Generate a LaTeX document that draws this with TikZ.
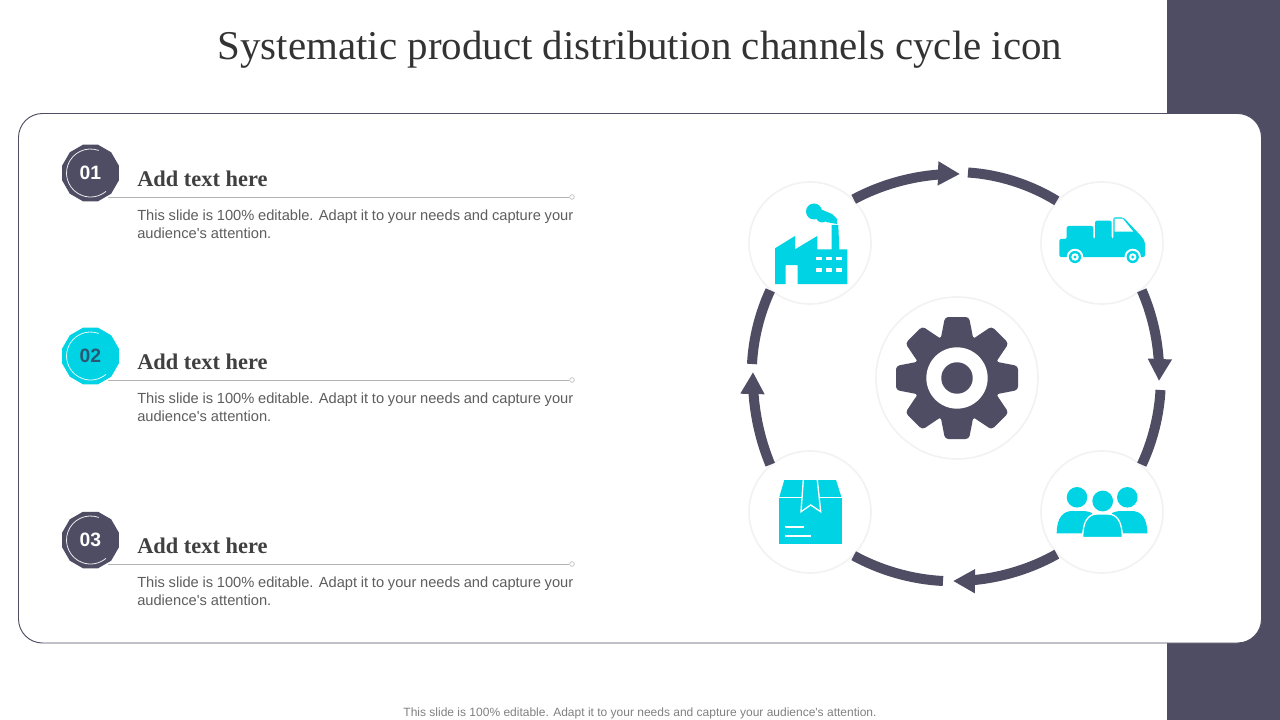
\documentclass[tikz,border=0pt]{standalone}
\usepackage{fontspec}
\setmainfont{Liberation Sans}
\newfontfamily\headfont{Liberation Serif}
\usetikzlibrary{positioning,arrows.meta,bending,shapes.geometric}
\definecolor{navy}{HTML}{4F4D63}
\definecolor{aqua}{HTML}{00D3E3}
\definecolor{bodygray}{HTML}{5E5E5E}
\definecolor{deepteal}{HTML}{2A5872}
\tikzset{
  badge/.style={regular polygon,regular polygon sides=12,minimum size=58.5pt*0.75,inner sep=0pt,font=\fontsize{14.5}{16}\selectfont\bfseries},
  headtext/.style={anchor=west,inner sep=0pt,text=black!75,font=\fontsize{16.8}{18}\headfont\bfseries},
  note/.style={anchor=north west,inner sep=0pt,text=bodygray,text width=327pt,align=justify,font=\fontsize{11}{13.5}\selectfont},
  iconbase/.style={circle,draw=black!5,line width=1.2pt,fill=white,minimum size=91.5pt,inner sep=0pt},
  ring/.style={navy,line width=7.5pt,looseness=0.85},
  ringarr/.style={ring,-{Triangle[length=16.5pt,width=17pt,flex=0]}},
}
\begin{document}
\begin{tikzpicture}[x=0.75pt,y=-0.75pt]
  \useasboundingbox (0,0) rectangle (1280,720);
  \fill[navy] (1167,0) rectangle (1280,720);
  \draw[navy,fill=white,line width=0.7pt,rounded corners=18pt] (18.5,113.5) rectangle (1261.5,643);
  \node[inner sep=0pt,text=black!80,font=\fontsize{30.7}{34}\headfont] (title) at (640,50) {Systematic product distribution channels cycle icon};
  \node[inner sep=0pt,text=black!50,font=\fontsize{9}{11}\selectfont] (foot) at (640,713) {This slide is 100\% editable. Adapt it to your needs and capture your audience\textquotesingle s attention.};
  % left column
  \foreach \i/\yy/\num/\col/\txt in {1/173/01/navy/white,2/356/02/aqua/deepteal,3/540/03/navy/white}{
    \coordinate (rule\i) at (108,\yy+24);
    \node[circle,draw=black!30,fill=white,minimum size=3.5pt,inner sep=0pt,line width=0.4pt] (dot\i) at (572,\yy+24) {};
    \draw[black!30,line width=0.7pt] (rule\i) -- (dot\i);
    \node[badge,fill=\col,text=\txt] (num\i) at (90.5,\yy) {\num};
    \draw[white!90!\col,line width=0.6pt] (num\i.center) ++(70:18pt) arc[start angle=70,delta angle=240,radius=18pt];
    \node[headtext] (head\i) at (137,\yy+5.5) {Add text here};
    \node[note] (note\i) at (137,\yy+37) {This slide is 100\% editable. Adapt it to your needs and capture your audience\textquotesingle s attention.};
  }
  % cycle
  \node[iconbase,minimum size=121.5pt] (hub) at (957,378) {};
  \node[iconbase] (factory) at (810,243) {};
  \node[iconbase] (truck) at (1102,243) {};
  \node[iconbase] (people) at (1102,512) {};
  \node[iconbase] (crate) at (810,512) {};
  \coordinate (tipa) at (960,174);
  \coordinate (taila) at (968,172.5);
  \coordinate (tipb) at (1159,381);
  \coordinate (tailb) at (1160.5,390);
  \coordinate (tipc) at (953,581);
  \coordinate (tailc) at (943,581);
  \coordinate (tipd) at (753,372);
  \coordinate (taild) at (752,364);
  \draw[ringarr] (factory.45) to[bend left=15] (tipa);
  \draw[ring] (taila) to[bend left=14] (truck.137);
  \draw[ringarr] (truck.-50) to[bend left=13] (tipb);
  \draw[ring] (tailb) to[bend left=11] (people.50);
  \draw[ringarr] (people.223) to[bend left=15] (tipc);
  \draw[ring] (tailc) to[bend left=13] (crate.-45);
  \draw[ringarr] (crate.130) to[bend left=12] (tipd);
  \draw[ring] (taild) to[bend left=11] (factory.230);
  % gear
  \foreach \a in {0,45,...,315}
    \fill[navy,rounded corners=2.5pt,shift={(957,378)},rotate=\a] (-16.5,-38) -- (-12,-61) -- (12,-61) -- (16.5,-38) -- cycle;
  \fill[navy] (hub.center) circle[radius=33pt];
  \fill[white] (hub.center) circle[radius=23pt];
  \fill[navy] (hub.center) circle[radius=11.8pt];
  % factory icon
  \fill[aqua] (775,284) -- (775,248.3) -- (795,236) -- (795,249.3) -- (817.3,236) -- (817.3,249.3) -- (831.7,249.3) -- (831.7,225) -- (838.3,225) -- (839.3,249.3) -- (847.3,249.3) -- (847.3,284) -- (797.7,284) -- (797.7,265) -- (785.7,265) -- (785.7,284) -- cycle;
  \fill[aqua] (814,211.5) circle[radius=6pt];
  \fill[aqua] (822,216.5) circle[radius=4.5pt];
  \fill[aqua] (820,209) -- (832,214) -- (837,219) -- (837,224) -- (826,222) -- cycle;
  \foreach \wx in {816,826,836}
    \foreach \wy in {256.7,268.3}
      \fill[white] (\wx,\wy) rectangle ++(6,3.4);
  % truck icon
  \fill[aqua,rounded corners=1.5pt] (1059.3,239) -- (1066.7,239) -- (1066.7,226) -- (1093.3,226) -- (1093.3,239) -- (1095,239) -- (1095,220.7) -- (1111.7,220.7) -- (1111.7,239) -- (1113.3,239) -- (1113.3,217.3) -- (1123.3,217.3) -- (1141.7,236.7) -- (1145,241.7) -- (1145,257) -- (1059.3,257) -- cycle;
  \fill[white] (1114.6,218.6) -- (1122.7,218.6) -- (1133.3,231.7) -- (1114.6,231.7) -- cycle;
  \foreach \wx in {1075,1132.7}{
    \fill[white] (\wx,257) circle[radius=6.2pt];
    \fill[aqua] (\wx,257) circle[radius=4.6pt];
    \fill[white] (\wx,257) circle[radius=2.8pt];
    \fill[aqua] (\wx,257) circle[radius=1.2pt];
  }
  % crate icon
  \fill[aqua] (779,498) rectangle (841.7,544);
  \fill[aqua] (784.3,480) -- (836,480) -- (841.7,498) -- (779,498) -- cycle;
  \draw[white,line width=1pt] (779,497.3) -- (841.7,497.3);
  \fill[aqua] (803.3,480) -- (801,511.7) -- (810.7,505) -- (820.7,511.7) -- (817.3,480) -- cycle;
  \draw[white,line width=1pt] (803.3,480) -- (801,511.7) -- (810.7,505) -- (820.7,511.7) -- (817.3,480);
  \draw[white,line width=1.3pt] (785,527.3) -- (804,527.3);
  \draw[white,line width=1.3pt] (785,536.3) -- (811,536.3);
  % people icon
  \fill[aqua] (1077,497.3) circle[radius=7.7pt];
  \fill[aqua] (1127.3,497.3) circle[radius=7.7pt];
  \fill[aqua] (1056.7,533.3) .. controls (1056.7,518) and (1063,511) .. (1072,511) -- (1082,511) .. controls (1087,511) and (1090,512) .. (1092,513) -- (1092,533.3) -- cycle;
  \fill[aqua] (1147.3,533.3) .. controls (1147.3,518) and (1141,511) .. (1132,511) -- (1122,511) .. controls (1117,511) and (1114,512) .. (1112,513) -- (1112,533.3) -- cycle;
  \fill[aqua] (1102.7,501) circle[radius=7.8pt];
  \fill[aqua,draw=white,line width=1pt] (1082.7,537.5) .. controls (1082.7,522) and (1088,514) .. (1097,514) -- (1108,514) .. controls (1117,514) and (1122.3,522) .. (1122.3,537.5) -- cycle;
\end{tikzpicture}
\end{document}
